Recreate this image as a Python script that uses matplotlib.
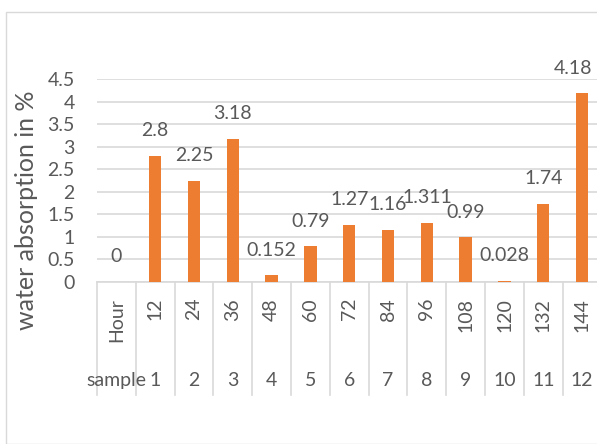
import matplotlib
matplotlib.use("Agg")
import matplotlib.pyplot as plt
from matplotlib.patches import Rectangle
from matplotlib.transforms import blended_transform_factory

hours = ["Hour", "12", "24", "36", "48", "60", "72", "84", "96", "108", "120", "132", "144"]
samples = ["sample", "1", "2", "3", "4", "5", "6", "7", "8", "9", "10", "11", "12"]
absorption = [0, 2.8, 2.25, 3.18, 0.152, 0.79, 1.27, 1.16, 1.311, 0.99, 0.028, 1.74, 4.18]
value_labels = ["0", "2.8", "2.25", "3.18", "0.152", "0.79", "1.27", "1.16", "1.311", "0.99", "0.028", "1.74", "4.18"]
yticks = [0, 0.5, 1, 1.5, 2, 2.5, 3, 3.5, 4, 4.5]
ytick_labels = ["0", "0.5", "1", "1.5", "2", "2.5", "3", "3.5", "4", "4.5"]

plt.rcParams["font.family"] = ["Lato", "DejaVu Sans"]
TXT = "#595959"
GRID = "#d9d9d9"
BAR = "#ed7d31"
FS = 14
FS_TITLE = 18

W, H = 597, 444
fig = plt.figure(figsize=(W / 100, H / 100), dpi=100)

# chart frame
fig.patches.append(Rectangle((6 / W, 0), 1, 1 - 12 / H, transform=fig.transFigure,
                             fill=False, edgecolor=GRID, linewidth=1.0, zorder=0))

left, right, top, bottom = 97, 601.5, 79, 282
ax = fig.add_axes([left / W, 1 - bottom / H, (right - left) / W, (bottom - top) / H])

x = list(range(len(absorption)))
ax.bar(x, absorption, width=0.32, color=BAR, zorder=3)
ax.set_xlim(-0.5, len(absorption) - 0.5)
ax.set_ylim(0, 4.5)
ax.set_yticks(yticks)
ax.set_yticklabels(ytick_labels)
ax.tick_params(axis="y", length=0, pad=16, labelsize=FS, labelcolor=TXT)
ax.set_xticks([])
ax.grid(axis="y", color=GRID, linewidth=1.2, zorder=0)
for s in ["top", "right", "left"]:
    ax.spines[s].set_visible(False)
ax.spines["bottom"].set_color(GRID)
ax.spines["bottom"].set_linewidth(1.2)

labels = []
for xi, v, lab in zip(x, absorption, value_labels):
    labels.append(ax.annotate(lab, (xi, v), xytext=(0, 18), textcoords="offset points",
                              ha="center", va="center", fontsize=FS, color=TXT, zorder=4))

# keep data labels inside the chart frame
fig.canvas.draw()
renderer = fig.canvas.get_renderer()
for t in labels:
    bb = t.get_window_extent(renderer)
    overflow = bb.x1 - (W - 5)
    if overflow > 0:
        t.set_position((-overflow * 72 / 100, 18))

# two-level category axis
tr = blended_transform_factory(ax.transData, ax.transAxes)
ax_h = bottom - top
sep_bottom = -(395 - bottom) / ax_h
for b in [i - 0.5 for i in range(len(absorption) + 1)]:
    ax.plot([b, b], [0, sep_bottom], transform=tr, color=GRID, linewidth=1.2, clip_on=False)

row1_y = -(298 - bottom) / ax_h
row2_y = -(380 - bottom) / ax_h
for xi, h, s in zip(x, hours, samples):
    ax.text(xi, row1_y, h, transform=tr, rotation=90, ha="center", va="top",
            fontsize=FS, color=TXT)
    ax.text(xi, row2_y, s, transform=tr, ha="center", va="center",
            fontsize=FS, color=TXT)

fig.text(27 / W, 1 - 210 / H, "water absorption in %", rotation=90,
         ha="center", va="center", fontsize=FS_TITLE, color=TXT)

fig.savefig("out.png", dpi=100)
